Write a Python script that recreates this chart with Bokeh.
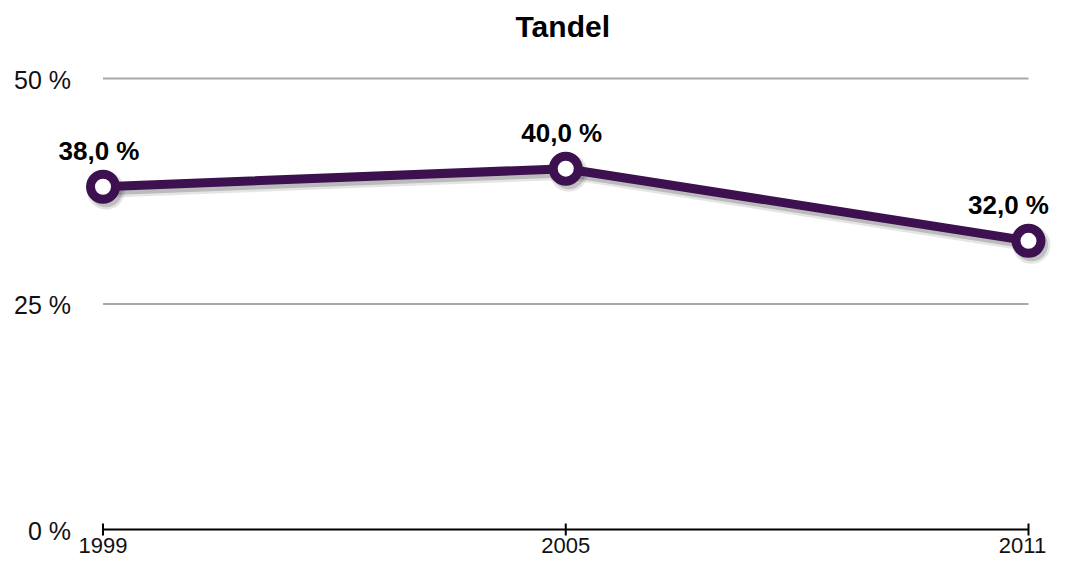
from bokeh.plotting import figure
from bokeh.models import ColumnDataSource, LabelSet, Label, Range1d
from bokeh.core.properties import value
from bokeh.embed import file_html
from bokeh.resources import INLINE

# ---- data ----
title_text = "Tandel"
years = [1999, 2005, 2011]
values = [38.0, 40.0, 32.0]
value_labels = [f"{v:.1f}".replace(".", ",") + " %" for v in values]
y_ticks = [0, 25, 50]
y_tick_labels = ["0 %", "25 %", "50 %"]
x_tick_labels = [str(y) for y in years]
grid_values = [25, 50]

# ---- style / layout (pixel geometry of the canvas) ----
PURPLE = "#3d1150"
FONT = "Liberation Sans"
W, H = 1053, 557
X_FIRST_PX, X_LAST_PX = 102.5, 1028.0    # canvas x of first / last year
Y_ZERO_PX, Y_TOP_PX = 529.0, 78.0        # canvas y of 0 and of top tick
ppx = (X_LAST_PX - X_FIRST_PX) / (years[-1] - years[0])
ppy = (Y_ZERO_PX - Y_TOP_PX) / (y_ticks[-1] - y_ticks[0])
x0 = years[0] - X_FIRST_PX / ppx
y0 = y_ticks[0] - (H - Y_ZERO_PX) / ppy

p = figure(width=W, height=H, output_backend="svg", toolbar_location=None,
           x_range=Range1d(x0, x0 + W / ppx), y_range=Range1d(y0, y0 + H / ppy),
           x_axis_location=None, y_axis_location=None, min_border=0)
p.outline_line_color = None
p.grid.visible = False
p.background_fill_color = "white"
p.border_fill_color = "white"

# grid lines across the data span
p.segment(x0=[years[0]] * len(grid_values), x1=[years[-1]] * len(grid_values),
          y0=grid_values, y1=grid_values, line_color="#a9a9a9", line_width=2)

# baseline and ticks
p.segment(x0=[years[0]], x1=[years[-1]], y0=[y_ticks[0]], y1=[y_ticks[0]],
          line_color="black", line_width=2)
tick_half = 6 / ppy
p.segment(x0=years, x1=years, y0=[y_ticks[0] - tick_half] * len(years),
          y1=[y_ticks[0] + tick_half] * len(years), line_color="black", line_width=2)

# soft drop shadow
dx, dy = 3 / ppx, -4 / ppy
sx = [x + dx for x in years]
sy = [v + dy for v in values]
p.line(sx, sy, line_color="black", line_alpha=0.10, line_width=14, line_join="round")
p.line(sx, sy, line_color="black", line_alpha=0.18, line_width=9, line_join="round")
p.scatter(sx, sy, size=38, fill_color="black", fill_alpha=0.10, line_color=None)
p.scatter(sx, sy, size=33, fill_color="black", fill_alpha=0.16, line_color=None)

# main series
src = ColumnDataSource(dict(x=years, y=values, lab=value_labels,
                            base=[y_ticks[0]] * len(years), xl=x_tick_labels,
                            lab_dx=[-4, -4, -20], xl_dx=[0, 0, -6]))
p.line("x", "y", source=src, line_color=PURPLE, line_width=9, line_join="round")
p.scatter("x", "y", source=src, size=25, fill_color="white", line_color=PURPLE, line_width=9)

# value labels
p.add_layout(LabelSet(x="x", y="y", text="lab", source=src, text_align="center",
                      text_baseline="alphabetic", y_offset=27, x_offset="lab_dx",
                      text_font=value(FONT), text_font_size="26px",
                      text_font_style="bold", text_color="black"))

# x tick labels
p.add_layout(LabelSet(x="x", y="base", text="xl", source=src, text_align="center",
                      text_baseline="alphabetic", y_offset=-23, x_offset="xl_dx",
                      text_font=value(FONT), text_font_size="22px", text_color="#111111"))

# y tick labels
ysrc = ColumnDataSource(dict(x=[years[0]] * len(y_ticks), y=y_ticks, t=y_tick_labels))
p.add_layout(LabelSet(x="x", y="y", text="t", source=ysrc, text_align="right",
                      text_baseline="alphabetic", x_offset=-32, y_offset=-10,
                      text_font=value(FONT), text_font_size="25px", text_color="#111111"))

# title
p.add_layout(Label(x=(years[0] + years[-1]) / 2, y=y_ticks[-1], text=title_text,
                   text_align="center", text_baseline="alphabetic", x_offset=-3, y_offset=52,
                   text_font=FONT, text_font_size="30px", text_font_style="bold",
                   text_color="black"))

open("out.html", "w").write(file_html(p, INLINE))
